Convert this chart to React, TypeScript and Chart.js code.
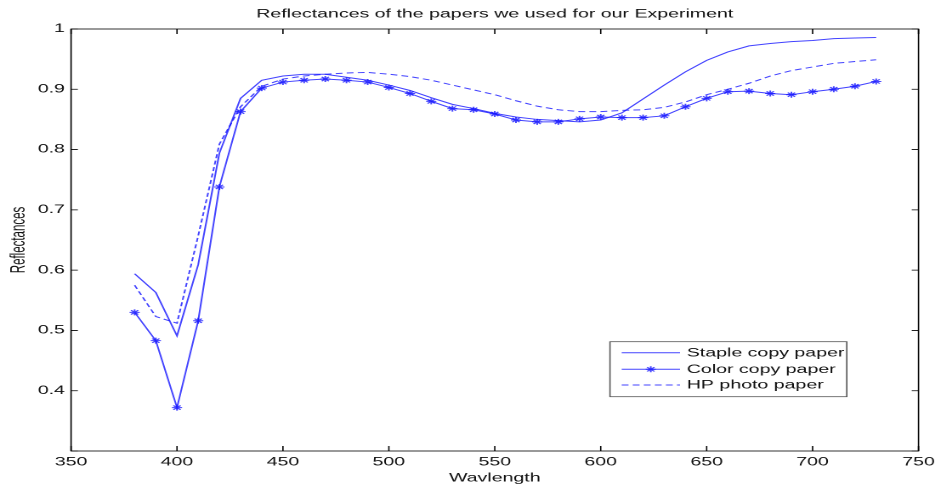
import React, { useEffect, useRef } from 'react';
import { Chart, registerables } from 'chart.js';

Chart.register(...registerables);

// ---- data ----
const wavelengths = [380, 390, 400, 410, 420, 430, 440, 450, 460, 470, 480, 490, 500, 510, 520, 530, 540, 550, 560, 570, 580, 590, 600, 610, 620, 630, 640, 650, 660, 670, 680, 690, 700, 710, 720, 730];

const stapleCopyPaper = [0.594, 0.563, 0.491, 0.609, 0.794, 0.885, 0.915, 0.922, 0.925, 0.925, 0.920, 0.915, 0.907, 0.898, 0.886, 0.875, 0.868, 0.860, 0.854, 0.850, 0.848, 0.846, 0.849, 0.861, 0.884, 0.907, 0.929, 0.948, 0.962, 0.972, 0.976, 0.979, 0.981, 0.984, 0.985, 0.986];

const colorCopyPaper = [0.530, 0.483, 0.372, 0.516, 0.738, 0.863, 0.902, 0.912, 0.915, 0.917, 0.915, 0.912, 0.903, 0.893, 0.880, 0.868, 0.866, 0.859, 0.849, 0.846, 0.846, 0.851, 0.854, 0.853, 0.853, 0.856, 0.871, 0.885, 0.896, 0.897, 0.893, 0.891, 0.896, 0.900, 0.905, 0.913];

const hpPhotoPaper = [0.575, 0.523, 0.512, 0.657, 0.809, 0.871, 0.905, 0.917, 0.922, 0.925, 0.927, 0.928, 0.925, 0.921, 0.915, 0.907, 0.899, 0.891, 0.881, 0.872, 0.866, 0.863, 0.863, 0.865, 0.866, 0.870, 0.879, 0.891, 0.900, 0.910, 0.922, 0.931, 0.937, 0.943, 0.946, 0.949];

const seriesLabels = ['Staple copy paper', 'Color copy paper', 'HP photo paper'];
const chartTitle = 'Reflectances of the papers we used for our Experiment';
const xAxisTitle = 'Wavlength';
const yAxisTitle = 'Reflectances';

// ---- styling ----
const FONT = "'Liberation Sans', Arial, Helvetica, sans-serif";
const FS = 11.5;
const BLUE = 'rgba(20,20,255,0.8)';
const TEXT = '#111';

const toPoints = (ys: number[]) => wavelengths.map((x, i) => ({ x, y: ys[i] }));

function drawStar(ctx: CanvasRenderingContext2D, x: number, y: number, r: number) {
  const d = r * Math.SQRT1_2;
  ctx.beginPath();
  ctx.moveTo(x - r, y); ctx.lineTo(x + r, y);
  ctx.moveTo(x, y - r); ctx.lineTo(x, y + r);
  ctx.moveTo(x - d, y - d); ctx.lineTo(x + d, y + d);
  ctx.moveTo(x - d, y + d); ctx.lineTo(x + d, y - d);
  ctx.stroke();
}

const boxAndTicks = {
  id: 'boxAndTicks',
  afterDatasetsDraw(chart: any) {
    const { ctx, chartArea: a, scales } = chart;
    ctx.save();
    ctx.strokeStyle = '#000';
    ctx.lineWidth = 0.8;
    ctx.strokeRect(a.left, a.top, a.right - a.left, a.bottom - a.top);
    ctx.beginPath();
    for (const t of scales.x.ticks) {
      const x = scales.x.getPixelForValue(t.value);
      ctx.moveTo(x, a.bottom); ctx.lineTo(x, a.bottom - 5);
      ctx.moveTo(x, a.top); ctx.lineTo(x, a.top + 5);
    }
    for (const t of scales.y.ticks) {
      const y = scales.y.getPixelForValue(t.value);
      ctx.moveTo(a.left, y); ctx.lineTo(a.left + 4, y);
      ctx.moveTo(a.right, y); ctx.lineTo(a.right - 4, y);
    }
    ctx.stroke();
    ctx.restore();
  },
};

const boxLegend = {
  id: 'boxLegend',
  afterDraw(chart: any) {
    const { ctx, chartArea: a } = chart;
    const w = 139.3, h = 55;
    const left = a.right - 42.2 - w;
    const top = a.bottom - 54.3 - h;
    ctx.save();
    ctx.fillStyle = '#fff';
    ctx.fillRect(left, top, w, h);
    ctx.strokeStyle = '#555';
    ctx.lineWidth = 0.8;
    ctx.strokeRect(left, top, w, h);
    const rows = [11, 27.6, 43.3];
    chart.data.datasets.forEach((ds: any, i: number) => {
      const y = top + rows[i];
      ctx.strokeStyle = ds.borderColor;
      ctx.lineWidth = ds.borderWidth;
      ctx.setLineDash(ds.borderDash || []);
      ctx.beginPath();
      ctx.moveTo(left + 6.9, y);
      ctx.lineTo(left + 41.2, y);
      ctx.stroke();
      ctx.setLineDash([]);
      if (ds.pointStyle === 'star') {
        ctx.lineWidth = ds.pointBorderWidth;
        drawStar(ctx, left + 24, y, ds.pointRadius);
      }
      ctx.fillStyle = TEXT;
      ctx.font = `${FS}px ${FONT}`;
      ctx.textAlign = 'left';
      ctx.textBaseline = 'middle';
      ctx.fillText(ds.label, left + 45.2, y + 0.5);
    });
    ctx.restore();
  },
};

export default function App() {
  const ref = useRef<HTMLCanvasElement>(null);

  useEffect(() => {
    document.body.style.margin = '0';
    const canvas = ref.current!;
    const chart = new Chart(canvas, {
      type: 'line',
      data: {
        datasets: [
          {
            label: seriesLabels[0],
            data: toPoints(stapleCopyPaper),
            borderColor: BLUE,
            borderWidth: 1,
            pointRadius: 0,
            fill: false,
          },
          {
            label: seriesLabels[1],
            data: toPoints(colorCopyPaper),
            borderColor: BLUE,
            borderWidth: 1,
            pointStyle: 'star',
            pointRadius: 3,
            pointBorderWidth: 1,
            pointBorderColor: BLUE,
            pointBackgroundColor: BLUE,
            fill: false,
          },
          {
            label: seriesLabels[2],
            data: toPoints(hpPhotoPaper),
            borderColor: BLUE,
            borderWidth: 1,
            borderDash: [4, 2.5],
            pointRadius: 0,
            fill: false,
          },
        ],
      },
      options: {
        responsive: false,
        animation: false,
        devicePixelRatio: 2,
        layout: { padding: { left: 0, right: 9.7, top: 0, bottom: 0 } },
        plugins: {
          legend: { display: false },
          tooltip: { enabled: false },
          title: {
            display: true,
            text: chartTitle,
            fullSize: false,
            color: TEXT,
            font: { family: FONT, size: FS, weight: 'normal' },
            padding: { top: 7.6, bottom: 7.6 },
          },
        },
        scales: {
          x: {
            type: 'linear',
            min: 350,
            max: 750,
            grid: { display: false, drawTicks: false },
            border: { display: false },
            ticks: { stepSize: 50, color: TEXT, font: { family: FONT, size: FS }, padding: 4.5, maxRotation: 0 },
            title: { display: true, text: xAxisTitle, color: TEXT, font: { family: FONT, size: FS }, padding: { top: 0, bottom: 1 } },
            afterFit: (s: any) => { s.height = 35; s.paddingLeft = 0; s.paddingRight = 0; },
          },
          y: {
            type: 'linear',
            min: 0.3,
            max: 1,
            grid: { display: false, drawTicks: false },
            border: { display: false },
            ticks: {
              stepSize: 0.1,
              color: TEXT,
              font: { family: FONT, size: FS },
              padding: 3.6,
              callback: (v: any) => (v < 0.35 ? '' : String(Math.round(v * 10) / 10)),
            },
            title: { display: true, text: yAxisTitle, color: TEXT, font: { family: FONT, size: FS }, padding: { top: 4.3, bottom: 0 } },
            afterFit: (s: any) => { s.width = 41.8; },
          },
        },
      },
      plugins: [boxAndTicks, boxLegend],
    } as any);
    return () => chart.destroy();
  }, []);

  return (
    <canvas
      ref={ref}
      width={550}
      height={486}
      style={{ display: 'block', width: '935px', height: '486px' }}
    />
  );
}
